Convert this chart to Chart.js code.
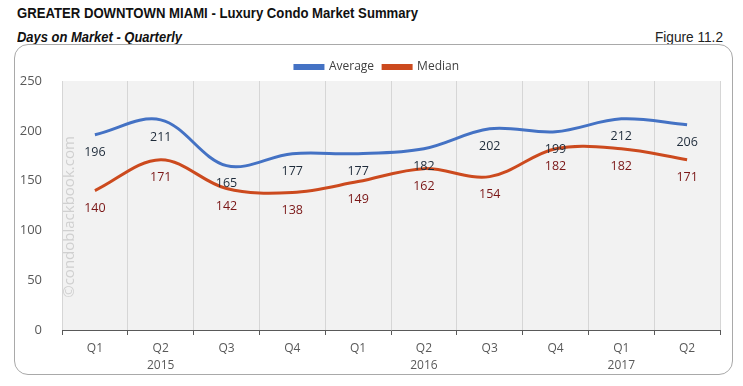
<!DOCTYPE html>
<html>
<head>
<meta charset="utf-8">
<script src="https://cdn.jsdelivr.net/npm/chart.js@4/dist/chart.umd.min.js"></script>
<style>
  html, body { margin: 0; padding: 0; background: #ffffff; }
  body { width: 743px; height: 386px; position: relative; overflow: hidden; }
  .hdr { position: absolute; font-family: "Liberation Sans Narrow", "Arial Narrow", "Liberation Sans", sans-serif; white-space: nowrap; transform-origin: 0 0; display: inline-block; line-height: normal; }
  #title { left: 17px; top: 5px; font-weight: bold; font-size: 14px; color: #111; }
  #subtitle { left: 17px; top: 29px; font-weight: bold; font-style: italic; font-size: 14px; color: #111; }
  #figure { left: 655px; top: 29px; font-size: 14px; color: #222; }
  #box { position: absolute; left: 14px; top: 44px; width: 717px; height: 329px; border: 1px solid #a9a9a9; border-radius: 14px; }
  #wrap { position: absolute; left: 0; top: 0; width: 743px; height: 386px; }
</style>
</head>
<body>
<div id="title" class="hdr">GREATER DOWNTOWN MIAMI - Luxury Condo Market Summary</div>
<div id="subtitle" class="hdr">Days on Market - Quarterly</div>
<div id="figure" class="hdr">Figure 11.2</div>
<div id="box"></div>
<div id="wrap"><canvas id="c" width="743" height="386"></canvas></div>
<script>
const quarters = ['Q1', 'Q2', 'Q3', 'Q4', 'Q1', 'Q2', 'Q3', 'Q4', 'Q1', 'Q2'];
const years = ['', '2015', '', '', '', '2016', '', '', '2017', ''];
const average = [196, 211, 165, 177, 177, 182, 202, 199, 212, 206];
const median = [140, 171, 142, 138, 149, 162, 154, 182, 182, 171];
const yTicks = [0, 50, 100, 150, 200, 250];
const watermark = '\u00A9condoblackbook.com';

// condense header text to the narrow widths of the original
[['title', 401], ['subtitle', 165], ['figure', 68]].forEach(([id, w]) => {
  const el = document.getElementById(id);
  const cur = el.getBoundingClientRect().width;
  if (cur > 0) el.style.transform = 'scaleX(' + (w / cur) + ')';
});

const labels = quarters.map((q, i) => [q, years[i]]);

const bgPlugin = {
  id: 'bg',
  afterLayout(chart) {
    if (chart.legend) {
      chart.legend.left += 10; chart.legend.right += 10;
      chart.legend.top += 2; chart.legend.bottom += 2;
    }
  },
  beforeDraw(chart) {
    const { ctx, chartArea: a } = chart;
    ctx.save();
    ctx.fillStyle = '#f2f2f2';
    ctx.fillRect(a.left, a.top, a.right - a.left, a.bottom - a.top);
    ctx.restore();
  }
};

const wmPlugin = {
  id: 'wm',
  beforeDatasetsDraw(chart) {
    const { ctx, chartArea: a } = chart;
    ctx.save();
    ctx.translate(a.left + 8, a.top + 136);
    ctx.rotate(-Math.PI / 2);
    ctx.fillStyle = '#d0d0d0';
    ctx.font = '15px "Open Sans", sans-serif';
    ctx.textAlign = 'center';
    ctx.textBaseline = 'middle';
    ctx.fillText(watermark, 0, 0);
    ctx.restore();
  }
};

const labelPlugin = {
  id: 'vals',
  afterDatasetsDraw(chart) {
    const { ctx } = chart;
    const y = chart.scales.y;
    const colors = ['#1e2b3a', '#7a1616'];
    ctx.save();
    ctx.font = '12.5px "Open Sans", sans-serif';
    ctx.textAlign = 'center';
    ctx.textBaseline = 'middle';
    chart.data.datasets.forEach((ds, di) => {
      const meta = chart.getDatasetMeta(di);
      ctx.fillStyle = colors[di];
      ds.data.forEach((v, i) => {
        const pt = meta.data[i];
        ctx.fillText(String(v), pt.x, y.getPixelForValue(v) + 18);
      });
    });
    ctx.restore();
  }
};

new Chart(document.getElementById('c'), {
  type: 'line',
  data: {
    labels: labels,
    datasets: [
      { label: 'Average', data: average, borderColor: '#4472c4', backgroundColor: '#4472c4', borderWidth: 3, tension: 0.35, pointRadius: 0, fill: false },
      { label: 'Median', data: median, borderColor: '#cc4a1e', backgroundColor: '#cc4a1e', borderWidth: 3, tension: 0.35, pointRadius: 0, fill: false }
    ]
  },
  options: {
    responsive: false,
    animation: false,
    layout: { padding: { left: 14, right: 23, top: 50, bottom: 14 } },
    plugins: {
      legend: {
        position: 'top',
        align: 'center',
        labels: {
          boxWidth: 28,
          boxHeight: 3,
          padding: 9,
          color: '#404040',
          font: { family: '"Open Sans", sans-serif', size: 12 }
        }
      },
      tooltip: { enabled: false }
    },
    scales: {
      x: {
        offset: true,
        grid: { display: true, offset: true, color: '#d6d6d6', tickColor: '#595959', tickLength: 5, drawTicks: true },
        border: { display: true, color: '#595959', width: 1 },
        ticks: { color: '#595959', padding: 5, font: { family: '"Open Sans", sans-serif', size: 12, lineHeight: 1.4 }, maxRotation: 0, autoSkip: false },
        afterFit(scale) { scale.height = 42; }
      },
      y: {
        min: 0,
        max: 250,
        afterBuildTicks(scale) { scale.ticks = yTicks.map(v => ({ value: v })); },
        grid: { display: false },
        border: { display: false },
        ticks: { color: '#595959', padding: 12, font: { family: '"Open Sans", sans-serif', size: 13 } },
        afterFit(scale) { scale.width = 48; }
      }
    }
  },
  plugins: [bgPlugin, wmPlugin, labelPlugin]
});
</script>
</body>
</html>
